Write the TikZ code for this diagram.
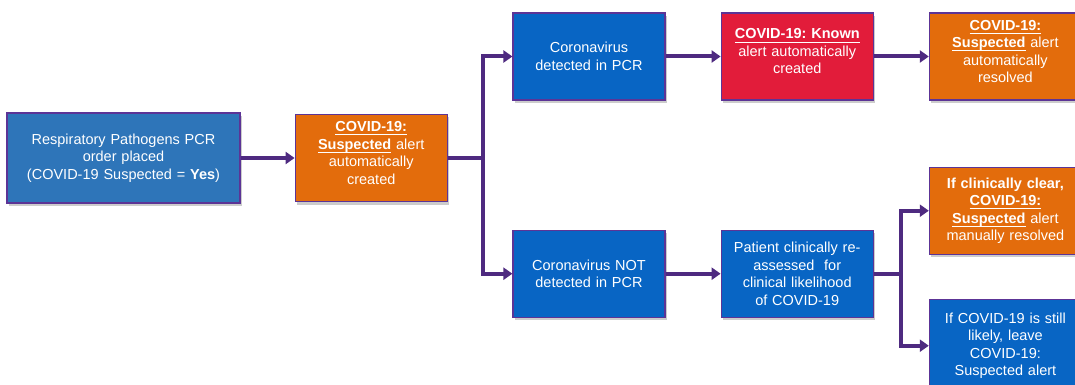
\documentclass[tikz,border=0pt]{standalone}
\usepackage{fontspec}
\setmainfont{Liberation Sans}
\usepackage{xcolor}
\usetikzlibrary{positioning, arrows.meta, shadows}

\definecolor{lblue}{RGB}{46,117,185}
\definecolor{dblue}{RGB}{8,101,196}
\definecolor{cred}{RGB}{226,28,58}
\definecolor{corange}{RGB}{227,108,12}
\definecolor{pline}{RGB}{78,42,128}
\definecolor{pedge}{RGB}{92,52,150}

\newcommand{\ulbf}[1]{\underline{\smash{\textbf{#1}}\rule[-1.5pt]{0pt}{1pt}}}
\frenchspacing

\begin{document}
\begin{tikzpicture}
    [
      x=1pt, y=-1pt,
      box/.style = {shape=rectangle, draw=pedge, line width=1.2pt, text=white, align=center,
                    text width=140pt, inner xsep=6pt, minimum height=87pt,
                    font=\fontsize{14.5}{17.5}\selectfont,
                    drop shadow={shadow xshift=2pt, shadow yshift=-3pt, opacity=0.4}},
      link/.style = {line width=4pt, draw=pline, -{Triangle[length=9pt, width=12pt]}},
      bar/.style = {line width=4pt, draw=pline}
    ]

    \useasboundingbox (0,0) rectangle (1075,385);
    \clip (0,0) rectangle (1075,385);

    \node[box, fill=lblue, text width=221pt, minimum height=90pt] (rpo) at (123.5,158)
      {Respiratory Pathogens PCR\\ order placed\\ (COVID-19 Suspected = \textbf{Yes})};
    \node[box, fill=corange, right=54pt of rpo] (sus)
      {\ulbf{COVID-19:}\\ \ulbf{Suspected} alert\\ automatically\\ created};

    \node[box, fill=dblue] (cdp) at (589,56.5) {Coronavirus\\ detected in PCR};
    \node[box, fill=cred, right=55pt of cdp] (kno)
      {\ulbf{COVID-19: Known}\\ alert automatically\\ created};
    \node[box, fill=corange, right=55pt of kno] (res)
      {\ulbf{COVID-19:}\\ \ulbf{Suspected} alert\\ automatically\\ resolved};

    \node[box, fill=dblue, below=129pt of cdp] (cnd) {Coronavirus NOT\\ detected in PCR};
    \node[box, fill=dblue, right=55pt of cnd] (rea)
      {Patient clinically re-\\ assessed~~for\\ clinical likelihood\\ of COVID-19};
    \node[box, fill=corange, right=55pt of rea, yshift=63pt] (clr)
      {\textbf{If clinically clear,}\\ \ulbf{COVID-19:}\\ \ulbf{Suspected} alert\\ manually resolved};
    \node[box, fill=dblue, right=55pt of rea, yshift=-72pt, minimum height=92pt] (lik)
      {If COVID-19 is still\\ likely, leave\\ COVID-19:\\ Suspected alert};

    \coordinate[right=35pt of sus.east] (sp1);
    \coordinate[right=27pt of rea.east] (sp2);

    \draw[link] (rpo) -- (sus);
    \draw[bar] (sus) -- (sp1);
    \draw[link] (sp1) |- (cdp);
    \draw[link] (sp1) |- (cnd);
    \draw[link] (cdp) -- (kno);
    \draw[link] (kno) -- (res);
    \draw[link] (cnd) -- (rea);
    \draw[bar] (rea) -- (sp2);
    \draw[link] (sp2) |- (clr);
    \draw[link] (sp2) |- (lik);
\end{tikzpicture}
\end{document}
